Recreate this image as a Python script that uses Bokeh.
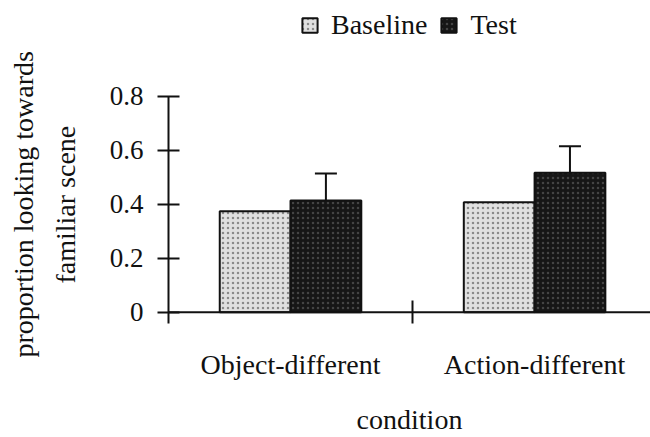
import numpy as np
from bokeh.plotting import figure
from bokeh.models import (Range1d, FixedTicker, Span, Whisker, TeeHead, ColumnDataSource,
                          Legend, LegendItem, Title)
from bokeh.embed import file_html
from bokeh.resources import INLINE

# ---- data ----
categories = ["Object-different", "Action-different"]
baseline = [0.374, 0.407]
test = [0.414, 0.516]
test_err = [0.100, 0.099]
y_ticks = [0, 0.2, 0.4, 0.6, 0.8]
y_tick_labels = ["0", "0.2", "0.4", "0.6", "0.8"]
series_names = ["Baseline", "Test"]
x_label = "condition"
y_label_lines = ["proportion looking towards", "familiar scene"]

FONT = "Liberation Serif"
INK = "#111111"

centers = np.arange(len(categories)) + 0.5
bar_w = 0.29

p = figure(width=650, height=437, output_backend="svg", toolbar_location=None,
           x_range=Range1d(0, 1.975), y_range=Range1d(-0.042, 1.1544),
           min_border_left=168, min_border_right=0, min_border_top=0,
           min_border_bottom=114)
p.outline_line_color = None
p.xgrid.visible = False
p.ygrid.visible = False
p.background_fill_color = "white"
p.border_fill_color = "white"

src_b = ColumnDataSource(dict(x=centers - bar_w / 2, top=baseline))
src_t = ColumnDataSource(dict(x=centers + bar_w / 2, top=test,
                              upper=np.array(test) + np.array(test_err)))

rb = p.vbar(x="x", top="top", bottom=0, width=bar_w, source=src_b,
            fill_color="#e0e0e0", line_color=INK, line_width=2,
            hatch_pattern="dot", hatch_color="#8a8a8a", hatch_scale=5, hatch_weight=1)
rt = p.vbar(x="x", top="top", bottom=0, width=bar_w, source=src_t,
            fill_color="#161616", line_color=INK, line_width=2,
            hatch_pattern="dot", hatch_color="#444444", hatch_scale=5, hatch_weight=1)

wh = Whisker(source=src_t, base="x", lower="top", upper="upper", dimension="height",
             line_color=INK, line_width=2,
             upper_head=TeeHead(size=22, line_color=INK, line_width=2), lower_head=None)
p.add_layout(wh)

p.add_layout(Span(location=0, dimension="width", line_color=INK, line_width=2))

# y axis
ya = p.yaxis[0]
ya.ticker = FixedTicker(ticks=y_ticks, minor_ticks=[])
ya.bounds = (-0.042, 0.8)
ya.major_label_overrides = {t: l for t, l in zip(y_ticks, y_tick_labels)}
ya.axis_line_color = INK
ya.axis_line_width = 2
ya.major_tick_line_color = INK
ya.major_tick_line_width = 2
ya.major_tick_in = 11
ya.major_tick_out = 11
ya.minor_tick_line_color = None
ya.major_label_text_font = FONT
ya.major_label_text_font_size = "27px"
ya.major_label_text_color = INK
ya.major_label_standoff = 14

# y-axis title as two rotated lines
t2 = Title(text=y_label_lines[1], align="left", offset=40, standoff=52,
           text_font=FONT, text_font_size="28px", text_font_style="normal",
           text_color=INK)
t1 = Title(text=y_label_lines[0], align="left", offset=-34, standoff=-34,
           text_font=FONT, text_font_size="28px", text_font_style="normal",
           text_color=INK)
p.add_layout(t2, "left")
p.add_layout(t1, "left")

# x axis
xa = p.xaxis[0]
xa.ticker = FixedTicker(ticks=list(centers), minor_ticks=[1.0])
xa.major_label_overrides = {float(c): n for c, n in zip(centers, categories)}
xa.axis_line_color = None
xa.major_tick_line_color = None
xa.major_tick_in = 0
xa.major_tick_out = 0
xa.minor_tick_line_color = INK
xa.minor_tick_line_width = 2
xa.minor_tick_in = 23
xa.minor_tick_out = 0
xa.major_label_text_font = FONT
xa.major_label_text_font_size = "28px"
xa.major_label_text_color = INK
xa.major_label_standoff = 25
xa.axis_label = x_label
xa.axis_label_text_font = FONT
xa.axis_label_text_font_size = "28px"
xa.axis_label_text_font_style = "normal"
xa.axis_label_text_color = INK
xa.axis_label_standoff = 21

legend = Legend(items=[LegendItem(label=series_names[0], renderers=[rb]),
                       LegendItem(label=series_names[1], renderers=[rt])],
                orientation="horizontal", location=(132, 282),
                glyph_width=19, glyph_height=18, label_standoff=12, spacing=12,
                label_text_font=FONT, label_text_font_size="28px", label_text_color=INK,
                border_line_color=None, background_fill_alpha=0, padding=0, margin=0)
p.add_layout(legend)

open("out.html", "w").write(file_html(p, INLINE))
